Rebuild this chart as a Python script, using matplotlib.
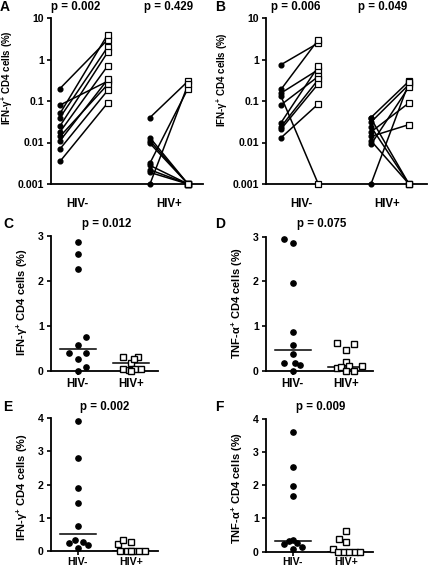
import matplotlib
matplotlib.use('Agg')
import matplotlib.pyplot as plt
from matplotlib.ticker import FixedLocator, NullLocator

plt.rcParams['font.family'] = ['Liberation Sans', 'DejaVu Sans']
plt.rcParams['font.weight'] = 'bold'
plt.rcParams['mathtext.default'] = 'regular'

# ---------------- data ----------------
groups = ['HIV-', 'HIV+']

# Panel A (paired, log scale)
A_neg_before = [0.2, 0.08, 0.05, 0.04, 0.025, 0.018, 0.014, 0.011, 0.007, 0.0035]
A_neg_after = [3.0, 0.3, 4.0, 2.0, 1.5, 0.7, 0.25, 0.33, 0.18, 0.09]
A_pos_before = [0.04, 0.013, 0.011, 0.0095, 0.0032, 0.0028, 0.0022, 0.0019, 0.001]
A_pos_after = [0.3, 0.001, 0.001, 0.001, 0.2, 0.001, 0.001, 0.001, 0.25]
A_p = ['p = 0.002', 'p = 0.429']

# Panel B (paired, log scale)
B_neg_before = [0.75, 0.19, 0.155, 0.13, 0.081, 0.030, 0.024, 0.021, 0.013]
B_neg_after = [2.5, 3.0, 0.57, 0.001, 0.39, 0.68, 0.33, 0.26, 0.085]
B_pos_before = [0.040, 0.038, 0.031, 0.024, 0.018, 0.014, 0.011, 0.009, 0.001]
B_pos_after = [0.30, 0.001, 0.25, 0.001, 0.09, 0.027, 0.001, 0.22, 0.28]
B_p = ['p = 0.006', 'p = 0.049']

log_ticks = [0.001, 0.01, 0.1, 1, 10]
log_labels = ['0.001', '0.01', '0.1', '1', '10']

# Panel C
C_neg = [2.86, 2.61, 2.27, 0.75, 0.58, 0.39, 0.39, 0.26, 0.10, 0.0]
C_pos = [0.32, 0.18, 0.32, 0.26, 0.04, 0.03, 0.04, 0.04, 0.0]
C_med = [0.48, 0.17]
C_p = 'p = 0.012'

# Panel D
D_neg = [2.95, 2.87, 1.96, 0.88, 0.58, 0.38, 0.17, 0.18, 0.13, 0.0]
D_pos = [0.62, 0.48, 0.60, 0.21, 0.06, 0.10, 0.12, 0.12, 0.0, 0.0]
D_med = [0.47, 0.09]
D_p = 'p = 0.075'

# Panel E
E_neg = [3.92, 2.80, 1.89, 1.45, 0.74, 0.24, 0.32, 0.27, 0.17, 0.09]
E_pos = [0.22, 0.32, 0.27, 0.0, 0.0, 0.0, 0.0, 0.0, 0.0]
E_med = [0.52, 0.0]
E_p = 'p = 0.002'

# Panel F
F_neg = [3.60, 2.55, 1.97, 1.68, 0.22, 0.32, 0.36, 0.26, 0.14, 0.09]
F_pos = [0.61, 0.39, 0.29, 0.07, 0.0, 0.0, 0.0, 0.0, 0.0]
F_med = [0.32, 0.0]
F_p = 'p = 0.009'

ylab_ifn = 'IFN-γ$^{+}$ CD4 cells (%)'
ylab_tnf = 'TNF-α$^{+}$ CD4 cells (%)'

# ---------------- layout helpers ----------------
W, H = 430, 569
fig = plt.figure(figsize=(W / 100, H / 100), dpi=100)


def ax_px(l, r, t, b):
    return fig.add_axes([l / W, 1 - b / H, (r - l) / W, (b - t) / H])


def style(ax, xsize=8.3, xpad=2):
    for s in ['top', 'right']:
        ax.spines[s].set_visible(False)
    for s in ['left', 'bottom']:
        ax.spines[s].set_linewidth(1.3)
    ax.tick_params(axis='y', which='major', length=3, width=1.2, labelsize=7.6, pad=2)
    ax.tick_params(axis='x', which='major', length=3, width=1.2, labelsize=xsize, pad=xpad)
    for lab in ax.get_xticklabels() + ax.get_yticklabels():
        lab.set_fontweight('bold')


def letter(x, y, s):
    fig.text(x / W, 1 - y / H, s, fontsize=10, fontweight='bold', ha='left', va='center')


def ptext(x, y, s):
    fig.text(x / W, 1 - y / H, s, fontsize=8.3, fontweight='bold', ha='center', va='center')


def set_ylab(ax, text, size, xr, yc):
    ax.set_ylabel(text, fontsize=size, fontweight='bold')
    ax.yaxis.set_label_coords(xr, yc)


def paired(ax, xs, before, after):
    for b, a in zip(before, after):
        ax.plot(xs, [b, a], color='black', lw=1.1, clip_on=False, zorder=2)
    ax.plot([xs[0]] * len(before), before, 'o', ms=3.4, color='black', clip_on=False, zorder=3)
    ax.plot([xs[1]] * len(after), after, 's', ms=3.7, mfc='white', mec='black', mew=0.9,
            clip_on=False, zorder=4)


def log_panel(l, r, xs_neg, xs_pos, nb, na, pb, pa, labx, labxr, labyc):
    ax = ax_px(l, r, 18, 184)
    ax.set_yscale('log')
    ax.set_ylim(0.001, 10)
    ax.set_xlim(l, r)
    paired(ax, xs_neg, nb, na)
    paired(ax, xs_pos, pb, pa)
    ax.yaxis.set_major_locator(FixedLocator(log_ticks))
    ax.set_yticklabels(log_labels)
    ax.yaxis.set_minor_locator(NullLocator())
    ax.set_xticks(labx)
    ax.set_xticklabels(groups)
    style(ax)
    ax.tick_params(axis='x', length=0, pad=10)
    set_ylab(ax, ylab_ifn, 7.0, labxr, labyc)
    return ax


# Panel A
axA = log_panel(50.7, 203, [60, 107.7], [150, 188], A_neg_before, A_neg_after,
                A_pos_before, A_pos_after, [77.7, 169], -0.234, 0.64)
letter(0, 7, 'A')
ptext(75.8, 7, A_p[0])
ptext(169, 7, A_p[1])

# Panel B
axB = log_panel(265.7, 426.7, [281, 318.3], [371, 409], B_neg_before, B_neg_after,
                B_pos_before, B_pos_after, [301.7, 387], -0.22, 0.63)
letter(215, 7, 'B')
ptext(295.8, 7, B_p[0])
ptext(383, 7, B_p[1])

# scatter panels
neg_off = {
    'C': [0, 0, 0, 0.16, 0, -0.16, 0.16, 0, 0.16, 0],
    'D': [-0.17, 0, 0, 0, 0, 0, -0.17, 0.04, 0.14, 0],
    'E': [0, 0, 0, 0, 0, -0.16, -0.05, 0.1, 0.19, 0],
    'F': [0, 0, 0, 0, -0.17, -0.08, 0, 0.08, 0.17, 0],
}
pos_off = {
    'C': [-0.15, 0.0, 0.13, 0.05, -0.15, -0.04, 0.07, 0.18, 0.0],
    'D': [-0.17, 0, 0.14, 0, -0.17, -0.09, 0.05, 0.3, 0.0, 0.14],
    'E': [-0.24, -0.15, 0.0, -0.2, -0.08, 0.04, 0.15, 0.26, 0.0],
    'F': [0, -0.14, 0, -0.24, -0.15, -0.04, 0.06, 0.17, 0.27],
}


def scatter_panel(key, l, t, b, neg, pos, med, ymax, ylab, labyc, xsize=8.3, xpad=2):
    ax = ax_px(l, l + 107.3, t, b)
    ax.set_ylim(0, ymax)
    ax.set_xlim(-0.508, 1.505)
    ax.plot([0 + o for o in neg_off[key]], neg, 'o', ms=3.8, color='black', clip_on=False, zorder=3)
    ax.plot([1 + o for o in pos_off[key]], pos, 's', ms=4.3, mfc='white', mec='black', mew=1.0,
            clip_on=False, zorder=3)
    ax.plot([-0.34, 0.34], [med[0], med[0]], color='black', lw=1.1, zorder=2)
    ax.plot([0.66, 1.34], [med[1], med[1]], color='black', lw=1.1, zorder=2)
    ax.set_xticks([0, 1])
    ax.set_xticklabels(groups)
    ax.set_yticks(range(0, ymax + 1))
    style(ax, xsize, xpad)
    set_ylab(ax, ylab, 8.0, -0.19, labyc)
    return ax


scatter_panel('C', 50.7, 236, 371, C_neg, C_pos, C_med, 3, ylab_ifn, 0.51)
letter(3, 224, 'C')
ptext(106.7, 224, C_p)

scatter_panel('D', 265.7, 236.7, 371, D_neg, D_pos, D_med, 3, ylab_tnf, 0.51)
letter(215, 224, 'D')
ptext(322, 224, D_p)

scatter_panel('E', 50.7, 418.3, 551, E_neg, E_pos, E_med, 4, ylab_ifn, 0.48, 7.6, 1)
letter(3, 407, 'E')
ptext(105, 407, E_p)

scatter_panel('F', 265.7, 419, 551.5, F_neg, F_pos, F_med, 4, ylab_tnf, 0.48, 7.6, 1)
letter(215, 407, 'F')
ptext(321, 407, F_p)

fig.savefig('out.png', dpi=100)
